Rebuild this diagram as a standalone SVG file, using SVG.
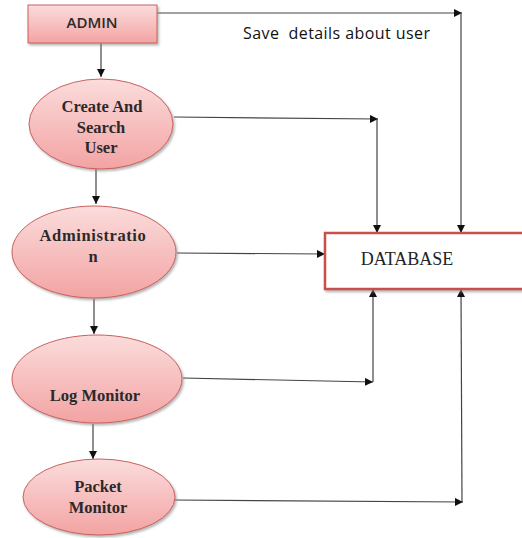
<svg xmlns="http://www.w3.org/2000/svg" width="522" height="538" viewBox="0 0 522 538">
<defs>
<linearGradient id="pink" x1="0" y1="0" x2="0" y2="1">
<stop offset="0" stop-color="#fbdcdc"/>
<stop offset="1" stop-color="#f3a3a3"/>
</linearGradient>
<marker id="ah" viewBox="0 0 10 10" refX="10" refY="5" markerWidth="8" markerHeight="8" markerUnits="userSpaceOnUse" orient="auto">
<path d="M0,0 L10,5 L0,10 z" fill="#111"/>
</marker>
<filter id="sh" x="-10%" y="-10%" width="130%" height="130%">
<feDropShadow dx="1.5" dy="2" stdDeviation="1.2" flood-color="#888" flood-opacity="0.6"/>
</filter>
</defs>
<style>
.node{fill:url(#pink);stroke:#c9615f;stroke-width:1;filter:url(#sh)}
.lbl{font-family:"Liberation Serif",serif;font-weight:bold;font-size:16.5px;fill:#2a2a2a;text-anchor:middle}
.c{fill:none;stroke:#444;stroke-width:1.2}
.ca{fill:none;stroke:#444;stroke-width:1.2;marker-end:url(#ah)}
</style>
<rect width="522" height="538" fill="#fff"/>
<g id="connectors">
<line class="ca" x1="101" y1="43" x2="101" y2="77"/>
<line class="ca" x1="96" y1="169" x2="96" y2="204"/>
<line class="ca" x1="94" y1="299" x2="94" y2="334"/>
<line class="ca" x1="93" y1="424" x2="93" y2="459"/>
<polyline class="ca" points="157,13 462,13"/>
<line class="ca" x1="461" y1="13" x2="461" y2="233"/>
<polyline class="ca" points="174,117 378,119"/>
<line class="ca" x1="377" y1="119" x2="377" y2="233"/>
<line class="ca" x1="177" y1="253" x2="325" y2="254"/>
<polyline class="ca" points="183,378 373,382"/>
<line class="ca" x1="373" y1="382" x2="373" y2="289"/>
<polyline class="ca" points="175,500 463,502"/>
<line class="ca" x1="462" y1="502" x2="461" y2="289"/>
</g>
<g id="admin">
<rect class="node" x="28" y="5" width="129" height="38"/>
<text x="92" y="28" font-family="'Open Sans',sans-serif" font-weight="600" font-size="15" fill="#2a2a2a" text-anchor="middle">ADMIN</text>
</g>
<g id="label-save">
<text x="243" y="39" font-family="'Open Sans',sans-serif" font-size="16" fill="#111" xml:space="preserve" textLength="187" lengthAdjust="spacing">Save  details about user</text>
</g>
<g id="create">
<ellipse class="node" cx="101" cy="124" rx="72" ry="45"/>
<text class="lbl" x="102" y="112">Create And</text>
<text class="lbl" x="101" y="133">Search</text>
<text class="lbl" x="101" y="153">User</text>
</g>
<g id="administration">
<ellipse class="node" cx="94" cy="252" rx="82" ry="46"/>
<text class="lbl" x="93" y="241" letter-spacing="0.6">Administratio</text>
<text class="lbl" x="93" y="262">n</text>
</g>
<g id="database">
<rect x="325" y="233" width="200" height="56" fill="#fff" stroke="#c9504d" stroke-width="2.5" filter="url(#sh)"/>
<text x="407" y="265" font-family="'Liberation Serif',serif" font-size="18" fill="#222" text-anchor="middle">DATABASE</text>
</g>
<g id="logmonitor">
<ellipse class="node" cx="97" cy="379" rx="85" ry="44"/>
<text class="lbl" x="95" y="401">Log Monitor</text>
</g>
<g id="packetmonitor">
<ellipse class="node" cx="99" cy="497" rx="76" ry="38"/>
<text class="lbl" x="98" y="492">Packet</text>
<text class="lbl" x="98" y="513">Monitor</text>
</g>
</svg>
